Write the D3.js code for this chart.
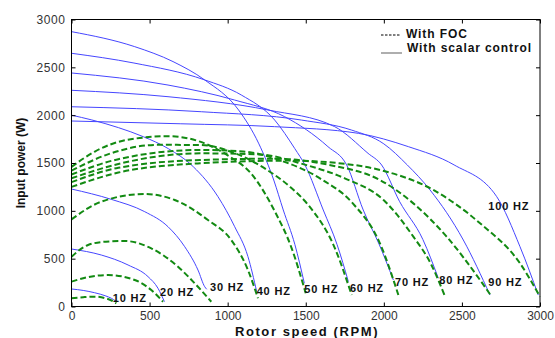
<!DOCTYPE html>
<html>
<head>
<meta charset="utf-8">
<script src="https://cdn.jsdelivr.net/npm/d3@7"></script>
<style>
  body { margin: 0; background: #fff; }
  svg { display: block; font-family: Arial, "Liberation Sans", sans-serif; }
</style>
</head>
<body>
<div id="chart"></div>
<script>
// Tick values
const xTicks = [0, 500, 1000, 1500, 2000, 2500, 3000];
const yTicks = [0, 500, 1000, 1500, 2000, 2500, 3000];

// Supply frequencies
const frequencies = [10, 20, 30, 40, 50, 60, 70, 80, 90, 100];

// Scalar control curves, [rotor speed (RPM), input power (W)]
const scalar10 = [[0, 183], [75, 168], [148, 144], [220, 110], [255, 86], [285, 55]];
const scalar20 = [[0, 601], [191, 538], [362, 434], [490, 312], [554, 190], [595, 50]];
const scalar30 = [[0, 1228], [255, 1120], [469, 991], [618, 834], [725, 625], [810, 381], [853, 207], [866, 180]];
const scalar40 = [[0, 2000], [130, 1950], [300, 1870], [460, 1775], [620, 1650], [780, 1461], [938, 1148], [1045, 834], [1130, 521], [1186, 155]];
const scalar50 = [[0, 2873], [405, 2716], [650, 2560], [853, 2368], [1070, 2054], [1200, 1700], [1295, 1322], [1356, 1009], [1430, 650], [1491, 242]];
const scalar60 = [[0, 2647], [400, 2545], [850, 2370], [1087, 2211], [1301, 1949], [1430, 1650], [1495, 1479], [1612, 1009], [1700, 650], [1773, 260]];
const scalar70 = [[0, 2441], [618, 2315], [1045, 2158], [1365, 1984], [1642, 1671], [1762, 1479], [1868, 1009], [1970, 650], [2061, 277]];
const scalar80 = [[0, 2260], [618, 2193], [1258, 2054], [1685, 1880], [1899, 1601], [1986, 1479], [2100, 1100], [2250, 700], [2349, 295]];
const scalar90 = [[0, 2088], [831, 2036], [1472, 1949], [1792, 1845], [2000, 1700], [2150, 1480], [2296, 1218], [2509, 695], [2680, 120]];
const scalar100 = [[0, 1939], [700, 1910], [1300, 1880], [1837, 1810], [2157, 1671], [2450, 1480], [2723, 1148], [2872, 625], [2989, 120]];

// Field oriented control curves, [rotor speed (RPM), input power (W)]
const foc10 = [[0, 86], [75, 97], [148, 103], [220, 85], [260, 60], [287, 33]];
const foc20 = [[0, 260], [100, 305], [234, 329], [405, 277], [511, 172], [586, 50]];
const foc30 = [[0, 521], [106, 643], [220, 678], [340, 685], [511, 608], [682, 416], [789, 242], [895, 50]];
const foc40 = [[0, 911], [191, 1096], [469, 1176], [661, 1113], [874, 904], [1023, 695], [1130, 381], [1194, 86]];
const foc50 = [[0, 1460], [150, 1620], [350, 1740], [620, 1780], [823, 1723], [1000, 1580], [1150, 1390], [1303, 991], [1410, 608], [1500, 138]];
const foc60 = [[0, 1420], [250, 1600], [550, 1690], [823, 1688], [1050, 1600], [1250, 1430], [1400, 1250], [1516, 1061], [1687, 608], [1794, 120]];
const foc70 = [[0, 1380], [300, 1540], [823, 1636], [1100, 1620], [1350, 1520], [1600, 1330], [1800, 1080], [1975, 660], [2093, 120]];
const foc80 = [[0, 1340], [300, 1490], [823, 1601], [1200, 1590], [1500, 1480], [1750, 1340], [2000, 1110], [2189, 730], [2300, 450], [2390, 113]];
const foc90 = [[0, 1300], [300, 1450], [823, 1531], [1300, 1545], [1650, 1480], [1975, 1322], [2189, 1078], [2402, 730], [2616, 277], [2691, 102]];
const foc100 = [[0, 1250], [300, 1400], [823, 1497], [1400, 1525], [1700, 1500], [1975, 1427], [2317, 1218], [2616, 870], [2872, 451], [3000, 102]];

// Where each "xx HZ" label sits, [RPM, W]
const labelAnchors = [[264, 47], [567, 105], [887, 162], [1186, 120], [1491, 146], [1783, 152], [2072, 217], [2355, 230], [2669, 214], [2669, 1009]];

const scalarCurves = [scalar10, scalar20, scalar30, scalar40, scalar50, scalar60, scalar70, scalar80, scalar90, scalar100];
const focCurves = [foc10, foc20, foc30, foc40, foc50, foc60, foc70, foc80, foc90, foc100];

// Define margins
const margin = { top: 19.5, right: 15, bottom: 31.5, left: 71.5 };
const totalWidth = 555, totalHeight = 338;
const width = 468.5, height = 287;

const svg = d3
  .select("#chart")
  .append("svg")
  .attr("width", totalWidth)
  .attr("height", totalHeight);

const g = svg.append("g").attr("transform", `translate(${margin.left}, ${margin.top})`);

// Scales
const xScale = d3.scaleLinear().domain([0, 3000]).range([0, width]);
const yScale = d3.scaleLinear().domain([0, 3000]).range([height, 0]);

// Line generator
const line = d3
  .line()
  .x((d) => xScale(d[0]))
  .y((d) => yScale(d[1]))
  .curve(d3.curveMonotoneX);

// Scalar control (solid blue)
g.selectAll(".scalar")
  .data(scalarCurves)
  .enter()
  .append("path")
  .attr("class", "scalar")
  .attr("fill", "none")
  .attr("stroke", "#4646ff")
  .attr("stroke-width", 1)
  .attr("d", line);

// FOC (dashed green)
g.selectAll(".foc")
  .data(focCurves)
  .enter()
  .append("path")
  .attr("class", "foc")
  .attr("fill", "none")
  .attr("stroke", "#128a12")
  .attr("stroke-width", 2)
  .attr("stroke-dasharray", "6,3")
  .attr("d", line);

// Frequency labels
g.selectAll(".hz")
  .data(frequencies)
  .enter()
  .append("text")
  .attr("class", "hz")
  .attr("x", (d, i) => xScale(labelAnchors[i][0]))
  .attr("y", (d, i) => yScale(labelAnchors[i][1]))
  .attr("font-size", 11)
  .attr("font-weight", "bold")
  .attr("letter-spacing", 0.8)
  .attr("fill", "#111")
  .text((d) => d + " HZ");

// Axes (ticks point inwards)
function styleAxis(sel) {
  sel.select(".domain").remove();
  sel.selectAll(".tick line").attr("stroke", "#000");
  sel.selectAll(".tick text")
    .attr("font-family", "Arial, 'Liberation Sans', sans-serif")
    .attr("font-size", 12)
    .attr("fill", "#333");
}

g.append("g")
  .attr("transform", `translate(0, ${height})`)
  .call(d3.axisBottom(xScale).tickValues(xTicks).tickFormat(d3.format("d")).tickSizeInner(-4).tickSizeOuter(0).tickPadding(5))
  .call(styleAxis);

g.append("g")
  .call(d3.axisTop(xScale).tickValues(xTicks).tickSizeInner(-4).tickSizeOuter(0).tickFormat(""))
  .call(styleAxis);

g.append("g")
  .call(d3.axisLeft(yScale).tickValues(yTicks).tickFormat(d3.format("d")).tickSizeInner(-4).tickSizeOuter(0).tickPadding(6))
  .call(styleAxis)
  .selectAll(".tick text")
  .attr("letter-spacing", 0.6);

g.append("g")
  .attr("transform", `translate(${width}, 0)`)
  .call(d3.axisRight(yScale).tickValues(yTicks).tickSizeInner(-4).tickSizeOuter(0).tickFormat(""))
  .call(styleAxis);

// Frame
g.append("rect")
  .attr("width", width)
  .attr("height", height)
  .attr("fill", "none")
  .attr("stroke", "#000")
  .attr("stroke-width", 1);

// Axis titles
svg.append("text")
  .attr("x", 307)
  .attr("y", 336)
  .attr("text-anchor", "middle")
  .attr("font-size", 13)
  .attr("font-weight", "bold")
  .attr("letter-spacing", 1.6)
  .attr("fill", "#111")
  .text("Rotor speed (RPM)");

svg.append("text")
  .attr("transform", "translate(25, 163) rotate(-90)")
  .attr("text-anchor", "middle")
  .attr("font-size", 12)
  .attr("font-weight", "bold")
  .attr("fill", "#111")
  .text("Input power (W)");

// Legend
const legend = svg.append("g");
legend.append("line")
  .attr("x1", 381).attr("x2", 401).attr("y1", 35).attr("y2", 35)
  .attr("stroke", "#000").attr("stroke-width", 1).attr("stroke-dasharray", "2.5,1.5");
legend.append("text")
  .attr("x", 406).attr("y", 38)
  .attr("font-size", 12).attr("font-weight", "bold").attr("letter-spacing", 0.9)
  .attr("fill", "#111")
  .text("With FOC");
legend.append("line")
  .attr("x1", 381).attr("x2", 402).attr("y1", 53).attr("y2", 53)
  .attr("stroke", "#777").attr("stroke-width", 1.2);
legend.append("text")
  .attr("x", 407).attr("y", 52)
  .attr("font-size", 12).attr("font-weight", "bold").attr("letter-spacing", 0.9)
  .attr("fill", "#111")
  .text("With scalar control");
</script>
</body>
</html>
